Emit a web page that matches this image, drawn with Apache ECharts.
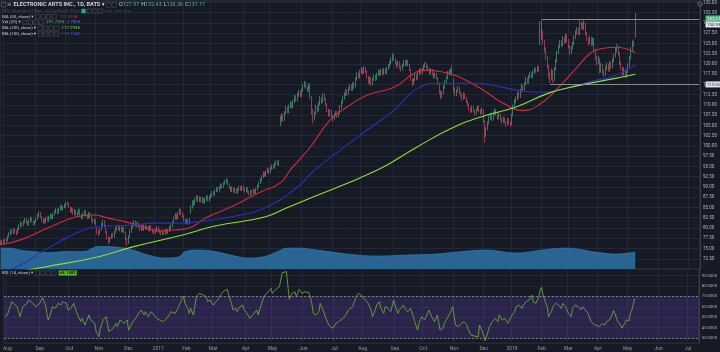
<!DOCTYPE html>
<html><head><meta charset="utf-8">
<script src="https://cdn.jsdelivr.net/npm/echarts/dist/echarts.min.js"></script>
<style>html,body{margin:0;padding:0;background:#161a25;}#c{width:720px;height:352px;}</style>
</head><body><div id="c"></div>
<script>
// ---------------- DATA ----------------
// trading-day slots on the x axis (index based, like the original), incl. empty future slots
const slotCount = 493;
// month ticks: [slot index of first trading day, label]
const monthTicks = [[2,'Aug'],[25,'Sep'],[46,'Oct'],[67,'Nov'],[88,'Dec'],[109,'2017'],[129,'Feb'],[148,'Mar'],[171,'Apr'],[190,'May'],[212,'Jun'],[234,'Jul'],[254,'Aug'],[277,'Sep'],[297,'Oct'],[319,'Nov'],[340,'Dec'],[360,'2018'],[381,'Feb'],[400,'Mar'],[421,'Apr'],[442,'May'],[464,'Jun'],[485,'Jul']];
// daily candles [open, close, low, high], slot 0 .. 447
const candles = [
[76.6,76.2,75.8,77.0],[76.3,76.8,76.0,77.2],[76.9,76.4,76.1,77.1],[76.5,77.0,76.2,77.4],[77.1,76.7,76.4,77.5],[76.9,77.9,76.7,78.2],[78.0,78.6,77.7,79.0],[78.5,79.2,78.2,79.6],[79.3,78.8,78.5,79.7],[78.7,79.5,78.4,79.9],[79.6,79.0,78.7,79.9],[79.1,78.6,78.2,79.4],[78.7,79.8,78.5,80.1],[79.7,80.5,79.4,80.9],[80.4,81.2,80.1,81.6],[81.3,80.6,80.3,81.5],[80.7,81.5,80.4,81.9],[81.4,82.1,81.1,82.5],[82.2,81.4,81.1,82.4],[81.5,80.9,80.5,81.8],[80.8,81.8,80.6,82.1],[81.9,82.3,81.5,82.8],[82.4,81.6,81.3,82.6],[81.7,81.0,80.6,81.9],[81.1,81.5,80.7,81.9],
[81.6,82.2,81.3,82.6],[82.1,83.0,81.9,83.4],[83.1,83.6,82.7,84.0],[83.7,82.8,82.5,83.9],[82.7,81.7,81.4,82.9],[81.6,82.0,81.1,82.4],[82.1,81.4,81.0,82.3],[81.5,82.3,81.2,82.7],[82.4,81.9,81.6,82.8],[81.8,82.6,81.5,83.0],[82.5,83.1,82.2,83.5],[83.2,82.4,82.1,83.4],[82.5,83.3,82.2,83.7],[83.2,83.9,83.0,84.3],[84.0,84.5,83.6,84.9],[84.6,83.8,83.4,84.8],[83.7,84.6,83.5,85.0],[84.5,85.3,84.2,85.7],[85.4,84.7,84.4,85.6],[84.6,85.0,84.2,85.4],[85.1,85.4,84.8,85.9],
[85.3,85.9,85.0,86.3],[86.1,86.0,85.5,86.5],[85.9,85.2,84.9,86.2],[85.1,84.1,83.8,85.3],[84.0,84.6,83.7,85.0],[84.7,83.5,83.2,84.8],[83.4,84.2,83.1,84.6],[84.3,83.0,82.7,84.4],[83.1,83.7,82.8,84.1],[83.6,84.4,83.3,84.8],[84.5,83.2,82.9,84.6],[83.1,82.5,82.1,83.4],[82.4,83.4,82.2,83.8],[83.5,84.0,83.1,84.4],[84.1,83.1,82.8,84.3],[83.0,82.6,82.2,83.4],[82.5,83.5,82.3,83.9],[83.6,82.7,82.4,83.8],[82.8,82.0,81.6,83.0],[81.9,81.5,81.1,82.3],[81.4,81.9,81.0,82.3],
[82.0,80.9,80.6,82.2],[79.6,79.2,78.4,80.3],[79.1,78.6,78.0,79.5],[78.7,79.5,78.4,79.9],[79.6,80.8,79.3,81.2],[80.7,81.6,80.4,82.1],[81.7,80.5,80.2,81.9],[80.4,79.1,78.8,80.7],[79.0,77.6,77.2,79.3],[77.5,76.8,76.1,77.9],[76.9,77.5,76.5,77.9],[77.6,78.3,77.3,78.7],[78.4,77.9,77.5,78.8],[77.8,79.0,77.6,79.4],[79.1,79.8,78.8,80.2],[79.7,80.4,79.4,80.8],[80.5,79.6,79.3,80.7],[79.5,80.2,79.2,80.6],[80.3,79.3,79.0,80.5],[79.2,79.9,78.9,80.3],[80.0,79.0,78.7,80.2],
[78.9,77.4,77.0,79.1],[77.3,76.3,75.7,77.6],[76.4,77.8,76.1,78.2],[77.9,79.2,77.6,79.6],[79.1,80.1,78.8,80.5],[80.2,80.8,79.9,81.3],[80.9,81.5,80.5,81.9],[81.6,80.6,80.3,81.8],[80.5,81.2,80.2,81.6],[81.3,80.3,80.0,81.5],[80.2,79.6,79.2,80.5],[79.5,80.4,79.3,80.8],[80.5,79.7,79.4,80.7],[79.6,80.5,79.3,80.9],[80.6,79.9,79.6,80.8],[79.8,80.2,79.5,80.6],[80.3,79.5,79.2,80.5],[79.4,80.3,79.1,80.6],[80.4,79.8,79.5,80.7],[79.7,79.1,78.8,80.0],[79.2,78.8,78.5,79.5],
[78.9,79.5,78.6,79.9],[79.4,80.1,79.1,80.5],[80.2,79.4,79.1,80.4],[79.3,79.0,78.6,79.7],[79.1,78.6,78.2,79.4],[78.5,79.2,78.3,79.6],[79.3,78.7,78.4,79.5],[78.6,79.4,78.4,79.8],[79.5,78.9,78.6,79.8],[78.8,79.3,78.5,79.7],[79.2,80.0,79.0,80.4],[80.1,80.5,79.7,80.9],[80.4,81.3,80.2,81.7],[81.4,82.4,81.1,82.8],[82.3,83.1,82.0,83.6],[83.2,82.3,82.0,83.5],[82.4,83.6,82.1,84.0],[83.5,84.3,83.2,84.8],[84.4,83.5,83.1,84.7],[83.4,82.9,82.5,83.8],
[82.8,82.1,81.7,83.2],[82.0,81.4,81.0,82.3],[81.3,81.8,80.9,82.2],[81.9,81.2,80.8,82.1],[81.3,82.0,81.0,82.4],[83.8,84.9,83.5,85.6],[85.0,86.2,84.7,86.7],[86.3,85.8,85.3,86.8],[85.7,86.9,85.5,87.3],[87.0,87.5,86.6,88.0],[87.6,86.7,86.3,87.9],[86.6,87.3,86.3,87.7],[87.4,86.5,86.2,87.6],[86.4,87.1,86.1,87.5],[87.2,86.3,86.0,87.4],[86.2,86.9,85.9,87.3],[87.0,87.6,86.6,88.0],[87.7,86.8,86.5,87.9],[86.7,87.4,86.4,87.8],
[87.5,87.9,87.1,88.3],[87.8,88.6,87.6,89.0],[88.7,88.2,87.8,89.0],[88.1,89.0,87.9,89.4],[89.1,89.6,88.7,90.0],[89.7,89.1,88.8,90.0],[89.0,89.8,88.8,90.2],[89.9,90.4,89.5,90.9],[90.5,90.0,89.6,90.8],[89.9,90.8,89.7,91.2],[90.9,91.3,90.5,91.7],[91.2,91.6,90.9,92.1],[91.7,90.7,90.4,91.9],[90.6,89.9,89.5,90.9],[89.8,89.2,88.8,90.1],[89.1,89.7,88.8,90.1],[89.8,88.9,88.6,90.0],[88.8,89.4,88.5,89.8],[89.5,88.7,88.4,89.7],[88.6,89.3,88.3,89.7],[89.4,89.9,89.0,90.3],[90.0,89.4,89.1,90.2],[89.3,90.0,89.0,90.4],
[90.1,89.5,89.2,90.3],[89.4,89.0,88.6,89.8],[88.9,89.6,88.7,90.0],[89.7,88.8,88.5,89.9],[88.7,88.3,87.9,89.1],[88.2,88.9,87.9,89.3],[89.0,88.5,88.1,89.3],[88.4,89.2,88.2,89.6],[89.3,88.7,88.4,89.5],[88.6,89.4,88.3,89.8],[89.5,90.2,89.2,90.6],[90.1,90.9,89.9,91.3],[91.0,91.8,90.7,92.2],[91.7,92.4,91.4,92.9],[92.5,93.3,92.2,93.8],[93.4,92.8,92.5,93.7],[92.7,93.6,92.5,94.0],[93.7,94.2,93.3,94.7],[94.3,93.7,93.3,94.6],
[93.6,94.5,93.4,94.9],[94.6,95.2,94.2,95.6],[95.3,94.8,94.4,95.6],[94.7,95.6,94.5,96.0],[95.7,96.0,95.3,96.5],[96.1,95.5,95.1,96.4],[95.4,96.2,95.2,96.6],[105.0,106.2,104.8,107.3],[106.3,107.4,105.9,108.0],[107.5,106.5,105.9,107.8],[106.4,108.0,106.2,108.5],[108.1,109.2,107.7,109.8],[109.3,108.4,108.0,109.6],[108.3,109.6,108.0,110.1],[109.7,110.3,109.2,110.9],[110.4,109.5,109.1,110.7],[109.4,110.8,109.2,111.3],[110.9,111.9,110.5,112.4],[112.0,111.2,110.8,112.3],[111.1,112.4,110.9,112.9],[112.5,113.1,112.0,113.7],[113.2,112.3,111.9,113.5],
[112.2,113.5,112.0,114.0],[113.6,114.6,113.2,115.1],[114.7,115.2,114.3,115.9],[115.3,114.3,113.9,115.6],[114.2,113.6,113.1,114.6],[113.5,114.8,113.3,115.3],[114.9,112.0,111.5,115.2],[111.8,108.4,107.6,112.2],[108.6,106.6,105.5,109.1],[106.8,107.8,106.2,108.4],[107.9,109.5,107.6,110.0],[109.6,108.7,108.2,110.0],[108.6,110.3,108.4,110.8],[110.4,111.6,110.0,112.2],[111.7,110.8,110.3,112.0],[110.7,112.4,110.5,112.9],[112.5,111.5,111.0,112.8],[111.4,110.2,109.8,111.7],[110.1,108.8,108.3,110.4],[108.7,107.6,107.1,109.0],[107.5,108.5,107.2,109.0],[108.6,107.2,106.8,108.8],
[107.1,106.6,106.0,107.6],[106.7,107.5,106.3,108.0],[107.6,108.1,107.2,108.6],[108.2,107.3,106.9,108.5],[107.2,108.0,107.0,108.5],[108.1,109.4,107.8,109.9],[109.5,110.6,109.1,111.1],[110.7,111.8,110.3,112.3],[111.7,112.5,111.4,113.0],[112.6,113.4,112.2,113.9],[113.5,112.7,112.3,113.8],[112.6,113.9,112.4,114.4],[114.0,114.6,113.6,115.1],[114.7,113.8,113.4,115.0],[113.7,115.1,113.5,115.6],[115.2,114.4,114.0,115.5],[114.5,116.3,114.3,116.8],[116.4,117.5,116.0,118.0],[117.6,116.8,116.4,117.9],[116.7,118.0,116.5,118.6],
[118.1,118.6,117.6,119.2],[118.7,117.9,117.5,119.0],[117.8,118.9,117.6,119.5],[119.0,118.2,117.8,119.3],[118.1,116.9,116.5,118.4],[116.8,115.6,115.1,117.1],[115.5,116.4,115.2,116.9],[116.5,115.1,114.6,116.8],[115.0,116.2,114.8,116.7],[116.3,117.0,115.9,117.5],[117.1,116.3,115.9,117.4],[116.2,117.4,116.0,117.9],[117.5,118.1,117.1,118.6],[118.2,117.5,117.1,118.5],[117.4,118.4,117.2,118.9],[118.5,117.7,117.3,118.8],[117.6,118.6,117.4,119.1],[118.7,117.9,117.5,119.0],[117.8,118.8,117.6,119.3],[118.9,119.4,118.5,119.9],[119.5,120.2,119.1,120.7],[120.3,121.0,119.9,121.6],[121.1,121.8,120.7,122.6],
[121.9,121.2,120.7,122.3],[121.1,120.3,119.9,121.5],[120.2,119.5,119.0,120.6],[119.6,120.4,119.3,120.9],[120.5,119.2,118.8,120.7],[119.1,118.6,118.2,119.6],[118.7,119.6,118.4,120.1],[119.7,120.5,119.3,121.0],[120.6,119.8,119.4,120.9],[119.7,120.6,119.5,121.1],[120.7,119.9,119.5,121.0],[119.8,118.7,118.3,120.0],[118.6,116.4,115.8,118.8],[116.3,115.2,114.5,116.6],[115.3,116.0,114.9,116.5],[116.1,117.1,115.8,117.6],[117.2,116.5,116.0,117.5],[116.4,117.6,116.2,118.1],[117.7,118.5,117.3,119.0],[118.6,117.9,117.5,118.9],
[117.8,118.6,117.6,119.1],[118.7,119.4,118.3,119.9],[119.5,120.0,119.1,120.5],[120.1,119.3,118.9,120.4],[119.2,118.7,118.3,119.6],[118.6,117.8,117.4,118.9],[117.9,118.5,117.5,119.0],[118.6,117.6,117.2,118.8],[117.5,116.8,116.4,117.8],[116.9,117.5,116.5,118.0],[117.6,116.6,116.2,117.8],[116.5,115.4,115.0,116.8],[115.3,113.2,112.6,115.5],[113.1,112.1,111.4,113.6],[112.2,112.8,111.7,113.3],[112.9,114.3,112.6,114.8],[114.4,115.6,114.0,116.1],[115.7,116.5,115.3,117.0],[116.6,117.8,116.3,118.3],[117.7,117.9,117.2,118.6],[118.0,118.4,117.5,119.0],[118.5,117.6,117.1,119.7],
[116.2,113.8,113.0,116.6],[113.9,112.6,112.1,114.3],[112.5,113.4,112.2,113.9],[113.5,114.2,113.1,114.7],[114.3,113.1,112.7,114.5],[113.0,112.3,111.9,113.4],[112.4,111.5,111.0,112.7],[111.6,112.6,111.3,113.1],[112.7,111.8,111.4,112.9],[111.7,111.0,110.5,112.0],[110.9,110.2,109.7,111.2],[110.1,109.1,108.6,110.4],[109.0,108.5,108.0,109.4],[108.6,109.4,108.2,109.9],[109.5,108.6,108.2,109.7],[108.5,107.9,107.4,108.8],[108.0,108.8,107.7,109.3],[108.9,109.5,108.5,110.0],[109.6,108.7,108.3,109.8],[108.6,108.1,107.6,109.0],[108.2,108.9,107.8,109.4],
[108.8,106.2,105.7,109.0],[106.0,102.4,100.8,106.3],[102.6,104.1,102.2,104.7],[104.2,105.6,103.8,106.1],[105.7,106.8,105.3,107.4],[106.9,107.5,106.4,108.1],[107.6,106.4,106.0,107.9],[106.5,107.9,106.2,108.4],[108.0,108.6,107.6,109.2],[108.7,107.8,107.4,109.0],[107.7,106.9,106.4,108.0],[106.8,107.6,106.5,108.1],[107.7,106.5,106.1,107.9],[106.4,105.8,105.3,106.8],[105.9,106.7,105.6,107.2],[106.8,105.9,105.5,107.0],[105.8,105.2,104.7,106.1],[105.3,106.3,105.0,106.8],[106.4,105.6,105.2,106.7],[105.5,105.1,104.6,106.0],
[105.3,107.4,105.1,107.9],[107.5,109.6,107.2,110.1],[109.7,110.8,109.2,111.4],[110.9,111.5,110.4,112.1],[111.6,112.7,111.2,113.3],[112.8,112.0,111.5,113.1],[111.9,113.4,111.7,113.9],[113.5,114.6,113.1,115.2],[114.7,113.8,113.4,114.9],[113.7,115.1,113.5,115.6],[115.2,116.3,114.8,116.9],[116.4,115.5,115.1,116.6],[115.4,116.8,115.2,117.3],[116.9,117.6,116.5,118.1],[117.7,116.9,116.5,117.9],[116.8,118.0,116.6,118.5],[118.1,118.7,117.7,119.2],[118.8,118.4,117.9,119.1],[118.3,119.0,118.0,119.5],[119.1,118.6,118.1,119.6],[125.2,126.8,124.6,130.4],
[127.4,128.3,125.9,130.6],[127.8,125.6,124.9,128.2],[125.5,123.4,122.8,126.0],[123.5,121.8,121.0,124.1],[121.7,119.5,118.9,122.0],[119.4,117.2,116.5,119.8],[117.3,116.4,115.3,118.0],[116.5,118.3,116.0,118.9],[118.2,116.0,115.3,118.6],[116.1,118.7,115.8,119.2],[118.8,120.6,118.4,121.2],[120.7,122.8,120.3,123.3],[122.9,124.1,122.4,124.7],[124.2,125.3,123.8,125.9],[125.4,124.6,124.1,125.8],[124.5,126.2,124.3,126.8],[126.3,125.4,124.9,126.6],[125.3,126.8,125.1,127.4],[126.9,125.9,125.4,127.3],
[125.8,124.3,123.8,126.1],[124.2,122.8,122.2,124.6],[122.9,123.9,122.5,124.4],[124.0,124.8,123.6,125.4],[124.9,126.4,124.6,127.0],[126.5,127.6,126.1,128.2],[127.7,128.3,127.2,129.0],[128.4,127.4,127.0,128.8],[127.3,128.9,127.1,130.6],[129.0,129.6,128.5,130.3],[129.7,128.7,128.2,130.1],[128.6,129.8,128.4,130.7],[129.9,127.5,127.0,130.2],[127.4,126.2,125.6,127.8],[126.1,125.1,124.5,126.5],[125.2,126.3,124.9,126.9],[126.4,124.8,124.3,126.6],[124.7,125.9,124.5,126.5],[126.0,123.4,122.9,126.3],[123.3,121.6,120.9,123.7],[121.5,120.5,119.7,122.0],
[120.6,121.3,119.9,122.0],[121.2,118.4,117.6,121.5],[118.5,119.6,117.9,120.2],[119.7,118.2,117.5,120.0],[118.1,117.4,116.8,118.6],[117.5,118.9,117.2,119.5],[119.0,119.8,118.5,120.4],[119.9,118.6,118.1,120.1],[118.5,120.1,118.2,120.7],[120.2,119.3,118.8,120.6],[119.2,120.8,118.9,121.4],[120.9,121.9,120.4,122.5],[122.0,123.2,121.6,123.9],[123.3,124.1,122.8,124.9],[124.2,122.6,122.1,124.5],[122.5,120.4,119.8,122.8],[120.3,119.1,118.5,120.7],[119.0,117.8,117.1,119.4],[117.9,118.6,117.3,119.2],[118.5,117.2,116.5,118.9],[117.3,118.0,116.8,118.6],
[118.1,119.5,117.8,120.1],[119.6,121.4,119.2,122.0],[121.5,123.6,121.1,124.2],[123.7,125.1,123.2,125.7],[125.6,125.0,124.2,126.0],[127.97,131.11,126.36,132.43]
];
// moving averages: [slot, value]
const ma50 = [[0,75.9],[14,77.1],[35,80.3],[53,82.7],[65,83.2],[76,82.4],[88,81.5],[100,80.3],[111,79.3],[123,79.5],[135,80.3],[144,82.4],[162,85.1],[183,88.8],[197,91.0],[204,94.2],[210,96.5],[218,99.7],[232,106.3],[244,109.5],[258,112.4],[277,114.3],[291,117.7],[300,118.5],[312,118.0],[323,116.8],[340,113.6],[354,110.4],[368,108.7],[379,110.0],[391,113.6],[405,118.8],[416,122.8],[424,123.8],[433,124.1],[440,123.8],[447,122.8]];
const ma100 = [[0,69.2],[14,71.0],[35,75.4],[55,79.0],[69,80.3],[93,80.7],[107,81.2],[121,81.2],[139,81.5],[162,82.7],[186,84.9],[209,90.0],[221,94.1],[253,102.6],[277,108.7],[295,114.3],[309,115.3],[335,115.3],[354,114.3],[370,113.3],[382,113.1],[393,113.6],[419,116.0],[433,117.2],[447,119.7]];
const ma200 = [[0,68.6],[31,70.5],[69,73.0],[93,75.4],[128,78.3],[151,80.5],[186,82.7],[202,85.0],[209,86.0],[265,94.1],[293,99.7],[319,104.6],[342,107.5],[363,109.5],[386,112.9],[405,114.6],[433,116.5],[447,117.5]];
// smoothed volume, millions of shares: [slot, value]
const volAvg = [[0,4.2],[7,4.2],[13,3.8],[23,3.5],[34,3.3],[46,3.5],[58,3.5],[69,4.5],[81,4.4],[93,3.8],[104,2.8],[116,2.2],[125,2.4],[130,3.5],[139,3.8],[151,3.5],[162,2.8],[174,2.2],[186,2.5],[195,3.5],[202,4.2],[209,4.2],[223,3.8],[244,3.0],[265,2.6],[286,2.8],[307,3.0],[321,3.4],[342,3.8],[363,3.2],[381,3.8],[398,4.2],[419,3.4],[433,3.0],[447,3.4]];
// RSI (14, close): [slot, value]
const rsi14 = [[0,50.5],[2,52.1],[4,60.1],[5,64.9],[6,63.3],[9,60.1],[10,55.3],[11,50.5],[12,55.3],[13,60.1],[16,63.3],[17,66.5],[19,64.9],[22,60.1],[23,61.7],[25,63.3],[27,68.8],[29,61.7],[30,53.7],[31,47.3],[32,50.5],[34,60.1],[36,58.5],[38,63.3],[40,61.7],[41,64.9],[44,63.3],[45,56.9],[47,58.5],[49,63.3],[51,55.3],[52,52.1],[54,45.7],[55,48.9],[57,42.5],[58,45.7],[60,52.1],[61,47.3],[64,44.1],[65,36.1],[67,31.3],[68,39.3],[70,47.3],[72,50.5],[73,44.1],[74,36.1],[75,34.5],[77,39.3],[79,44.1],[80,40.9],[82,47.3],[83,48.9],[85,44.1],[87,47.3],[88,37.7],[89,39.3],[91,45.7],[93,48.9],[95,53.7],[97,56.9],[99,52.1],[100,55.3],[102,50.5],[104,55.3],[106,52.1],[108,48.9],[110,47.3],[112,45.7],[114,47.3],[116,50.5],[118,55.3],[121,53.7],[123,58.5],[125,64.9],[127,70.4],[128,63.3],[130,58.5],[131,53.7],[132,58.5],[134,52.1],[135,60.1],[136,69.7],[138,72.9],[139,73.9],[141,71.3],[143,69.7],[144,64.9],[146,66.5],[148,61.7],[150,64.9],[152,68.1],[154,72.9],[156,75.5],[158,76.8],[159,71.3],[161,63.3],[162,56.9],[164,58.5],[165,55.3],[167,60.1],[169,61.7],[170,56.9],[172,53.7],[174,48.9],[175,50.5],[177,53.7],[179,56.9],[180,52.1],[182,61.7],[184,69.7],[186,72.9],[187,74.5],[189,77.8],[190,72.9],[192,76.2],[193,74.5],[195,79.4],[197,92.8],[200,93.8],[201,92.8],[202,67.2],[204,72.9],[206,74.5],[207,69.7],[209,76.8],[211,72.9],[213,74.5],[214,72.9],[216,73.6],[218,63.3],[219,53.7],[221,52.1],[223,55.3],[224,63.3],[226,56.9],[228,48.9],[230,42.5],[233,39.3],[234,37.7],[235,44.1],[237,45.7],[240,48.9],[242,52.1],[244,56.9],[247,60.1],[249,68.1],[251,72.9],[253,71.3],[255,68.1],[256,69.7],[258,63.3],[260,56.9],[261,50.5],[263,56.9],[264,61.7],[266,64.9],[267,58.5],[269,53.7],[270,60.1],[272,58.5],[274,55.3],[276,66.5],[277,61.7],[279,53.7],[280,56.9],[283,61.7],[284,58.5],[286,55.3],[288,58.5],[290,50.5],[291,45.7],[293,37.7],[294,44.1],[296,50.5],[298,47.3],[300,53.7],[301,56.9],[303,50.5],[305,45.7],[307,52.1],[309,37.7],[311,39.3],[312,44.1],[314,48.9],[316,53.7],[318,60.1],[319,50.5],[320,42.5],[322,40.9],[324,44.1],[326,45.7],[328,42.5],[329,37.7],[331,32.9],[333,31.9],[334,33.8],[336,31.3],[337,42.5],[339,36.1],[340,31.9],[341,27.4],[343,36.1],[344,40.9],[346,45.7],[348,48.9],[350,45.7],[351,52.1],[353,47.3],[355,48.9],[357,44.1],[358,44.1],[360,52.1],[362,55.3],[363,60.1],[365,61.7],[367,58.5],[368,61.7],[370,64.9],[372,66.5],[374,71.3],[375,64.9],[377,63.3],[379,69.7],[380,76.2],[381,78.7],[382,71.3],[384,63.3],[385,60.1],[386,50.5],[388,55.3],[389,60.1],[391,63.3],[393,61.7],[395,58.5],[396,63.3],[398,60.1],[400,53.7],[402,50.5],[403,58.5],[405,61.7],[407,60.1],[409,56.9],[410,60.1],[412,56.9],[414,53.7],[416,45.7],[417,44.1],[419,42.5],[420,44.1],[422,40.9],[424,44.1],[426,42.5],[427,45.7],[429,47.3],[431,52.1],[432,56.3],[433,53.7],[435,45.7],[437,42.5],[438,39.3],[440,44.1],[441,47.3],[443,46.7],[444,53.7],[445,56.9],[446,58.5],[447,68.2]];
// horizontal rays drawn on the chart: [start slot, price]
const rays = [[381,130.93],[387,115.02]];
// header values
const lastBar = {o:'127.97', h:'132.43', l:'126.36', c:'131.11'};
const maReadouts = {ma50:'122.3208', vol:['291.7376','2.7058'], ma200:'117.7935', ma100:'119.7142', rsi:'68.1483'};

// ---------------- CHART ----------------
const bg = '#161a25', gridC = '#232838', txt = '#b2b5be';
const up = '#53b987', down = '#e3576b';
const cRed = '#d42b38', cBlue = '#2a32bd', cGreen = '#8fe22b', cRsi = '#6cb53a';
const font = 'Roboto, "DejaVu Sans", sans-serif';
const monthMap = new Map(monthTicks);
const cats = Array.from({length: slotCount}, (_, i) => String(i));

const chart = echarts.init(document.getElementById('c'));
const xCommon = {type:'category', data:cats, boundaryGap:true, axisLine:{show:false}, axisTick:{show:false},
  splitLine:{show:true, interval:(i)=>monthMap.has(i), lineStyle:{color:gridC, width:1}}};

const option = {
  backgroundColor: bg,
  animation: false,
  grid: [
    {left:0, right:15, top:0, height:269, show:true, borderColor:'#2a2e3b', borderWidth:1, backgroundColor:'transparent'},
    {left:0, right:15, top:269, height:74, show:true, borderColor:'#2a2e3b', borderWidth:1, backgroundColor:'transparent'}
  ],
  xAxis: [
    Object.assign({gridIndex:0, axisLabel:{show:false}}, xCommon),
    Object.assign({gridIndex:1, axisLabel:{show:true, interval:(i)=>monthMap.has(i), formatter:(v)=>monthMap.get(+v)||'', fontSize:5, color:'#9598a1', margin:3, fontFamily:font}}, xCommon)
  ],
  yAxis: [
    {type:'value', gridIndex:0, position:'right', min:70, max:135.41, interval:2.5,
     axisLine:{show:true, lineStyle:{color:'#3b3f4c'}}, axisTick:{show:false},
     splitLine:{lineStyle:{color:gridC}},
     axisLabel:{fontSize:4.6, color:txt, margin:3, fontFamily:font, formatter:(v)=> (v<71||v>135.2)?'':v.toFixed(2)}},
    {type:'value', gridIndex:0, min:0, max:53.8, show:false},
    {type:'value', gridIndex:1, position:'right', min:25.19, max:96.35, splitNumber:7,
     axisLine:{show:true, lineStyle:{color:'#3b3f4c'}}, axisTick:{show:false},
     splitLine:{lineStyle:{color:gridC}},
     axisLabel:{fontSize:4.2, color:txt, margin:3, fontFamily:font,
       formatter:(v)=> Math.abs(v/10-Math.round(v/10))<1e-6 ? v.toFixed(4) : ''}}
  ],
  series: [
    {name:'volume', type:'line', xAxisIndex:0, yAxisIndex:1, data:volAvg, smooth:0.4, symbol:'none', z:1,
     lineStyle:{color:'#3a82b8', width:0.6}, areaStyle:{color:'#2a6493', opacity:1}},
    {name:'price', type:'candlestick', xAxisIndex:0, yAxisIndex:0, data:candles, barWidth:'60%', z:2,
     itemStyle:{color:up, color0:down, borderColor:up, borderColor0:down, borderWidth:0.6},
     markLine:{silent:true, symbol:'none', label:{show:false},
       lineStyle:{color:'#9a9da6', width:1, type:'solid', opacity:0.85},
       data: rays.map(r => [{coord:[String(r[0]), r[1]]}, {coord:[String(slotCount-1), r[1]]}])}},
    {name:'MA50', type:'line', xAxisIndex:0, yAxisIndex:0, data:ma50, smooth:0.5, symbol:'none', z:3, lineStyle:{color:cRed, width:1.1}},
    {name:'MA100', type:'line', xAxisIndex:0, yAxisIndex:0, data:ma100, smooth:0.5, symbol:'none', z:3, lineStyle:{color:cBlue, width:1.1}},
    {name:'MA200', type:'line', xAxisIndex:0, yAxisIndex:0, data:ma200, smooth:0.5, symbol:'none', z:3, lineStyle:{color:cGreen, width:1.1}},
    {name:'RSI', type:'line', xAxisIndex:1, yAxisIndex:2, data:rsi14, symbol:'none', z:3, lineStyle:{color:cRsi, width:0.8},
     markArea:{silent:true, itemStyle:{color:'rgba(104,66,180,0.26)'}, data:[[{yAxis:30},{yAxis:70}]]},
     markLine:{silent:true, symbol:'none', label:{show:false}, lineStyle:{color:'#9598a1', type:[2,2], width:0.8}, data:[{yAxis:70},{yAxis:30}]}}
  ]
};
chart.setOption(option);

// ---------- header texts & price tags (laid out left to right by measured width) ----------
const measureCtx = document.createElement('canvas').getContext('2d');
function textW(text, size, weight) {
  measureCtx.font = (weight || 'normal') + ' ' + size + 'px ' + font;
  return measureCtx.measureText(text).width;
}
const g = [];
function boxes(x, y, n) {
  for (let k = 0; k < n; k++) g.push({type:'rect', shape:{x:x+k*5.5, y:y-2.2, width:4.4, height:4.4}, style:{fill:'none', stroke:'#4a4e5a', lineWidth:0.6}});
  return x + n*5.5 + 1.5;
}
function t(x, y, text, fill, size, weight) {
  g.push({type:'text', x:x, y:y, style:{text:text, fill:fill, fontSize:size, fontWeight:weight||'normal', fontFamily:font, verticalAlign:'middle'}});
  return x + textW(text, size, weight) + 2;
}
// row: list of items; {s:text, c:color, z:size, w:weight} or {b:n boxes} or {r:fill rect}
function row(y, x, items) {
  items.forEach(it => {
    if (it.b) x = boxes(x, y, it.b);
    else if (it.r) { g.push({type:'rect', shape:{x:x, y:y-2.2, width:4.4, height:4.4}, style:{fill:it.r}}); x += 6; }
    else x = t(x, y, it.s, it.c, it.z, it.w) + (it.gap || 0);
  });
}
g.push({type:'rect', shape:{x:1.5, y:2.6, width:4.4, height:4.4}, style:{fill:'none', stroke:'#6a6e7a', lineWidth:0.6}});
row(5, 7, [{s:'≡', c:'#9598a1', z:5.5}, {s:'ELECTRONIC ARTS INC., 1D, BATS ▾', c:'#d1d4dc', z:5.6, w:'bold'}, {b:2},
  {s:'O', c:'#d1d4dc', z:5.4, gap:-2}, {s:lastBar.o, c:up, z:5.4},
  {s:'H', c:'#d1d4dc', z:5.4, gap:-2}, {s:lastBar.h, c:up, z:5.4},
  {s:'L', c:'#d1d4dc', z:5.4, gap:-2}, {s:lastBar.l, c:up, z:5.4},
  {s:'C', c:'#d1d4dc', z:5.4, gap:-2}, {s:lastBar.c, c:up, z:5.4}]);
row(11, 2, [{s:'VDV (Number Of Bars, 24, Up/Down, 70) ▾', c:'#4e5260', z:4.2}, {r:'#26a69a'}, {b:3}, {s:'n/a   n/a   n/a', c:'#4e5260', z:4.2}]);
row(16.6, 2, [{s:'MA (50, close) ▾', c:'#c8cbd3', z:4.4}, {b:4}, {s:maReadouts.ma50, c:cRed, z:4.4}]);
row(22.4, 2, [{s:'Vol (20) ▾', c:'#c8cbd3', z:4.4}, {b:4}, {s:maReadouts.vol[0], c:'#6fbf72', z:4.4}, {s:maReadouts.vol[1], c:'#4a7bd8', z:4.4}]);
row(28.2, 2, [{s:'MA (200, close) ▾', c:'#c8cbd3', z:4.4}, {b:4}, {s:maReadouts.ma200, c:cGreen, z:4.4}]);
row(34, 2, [{s:'MA (100, close) ▾', c:'#c8cbd3', z:4.4}, {b:4}, {s:maReadouts.ma100, c:'#4a5be0', z:4.4}]);
// RSI header
(function(){
  let x = t(2, 273, 'RSI (14, close) ▾', '#c8cbd3', 4.4);
  x = boxes(x, 273, 4);
  const w = textW(maReadouts.rsi, 4.3, 'bold') + 2;
  g.push({type:'rect', shape:{x:x, y:270.5, width:w, height:5}, style:{fill:'#5fbf2e'}});
  t(x+1, 273, maReadouts.rsi, '#10140c', 4.3, 'bold');
})();
// settings icon top right
g.push({type:'circle', shape:{cx:700, cy:4, r:2.2}, style:{fill:'none', stroke:'#a08a64', lineWidth:0.7}});

// price tags on the right axis
const yClose = chart.convertToPixel({yAxisIndex:0}, Number(lastBar.c));
g.push({type:'rect', shape:{x:705.5, y:yClose-3, width:14.5, height:6}, style:{fill:up}});
t(707, yClose, lastBar.c, '#ffffff', 4.4);
let prevY = yClose;
rays.forEach(r => {
  let y = chart.convertToPixel({yAxisIndex:0}, r[1]);
  if (Math.abs(y - prevY) < 6) y = prevY + 6;
  g.push({type:'rect', shape:{x:705.5, y:y-3, width:14.5, height:6}, style:{fill:'#e9eaee'}});
  t(707, y, r[1].toFixed(2), '#131722', 4.4);
  prevY = y;
});
chart.setOption({graphic: g});
</script></body></html>
